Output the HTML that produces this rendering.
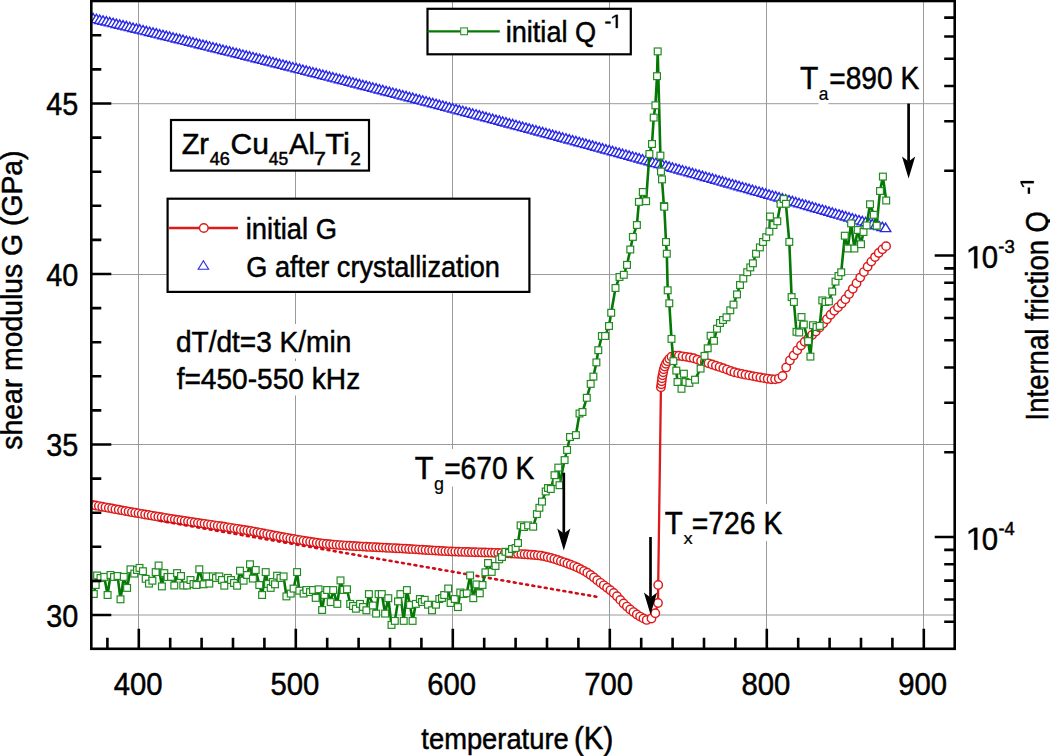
<!DOCTYPE html>
<html><head><meta charset="utf-8"><title>Shear modulus and internal friction</title>
<style>html,body{margin:0;padding:0;background:#fff;width:1050px;height:756px;overflow:hidden}svg{display:block}
text{font-family:"Liberation Sans",sans-serif;fill:#000;stroke:#000;stroke-width:0.5px}</style></head>
<body><svg width="1050" height="756" viewBox="0 0 1050 756">
<defs><clipPath id="clip"><rect x="91.3" y="1.0" width="863.4" height="647.8"/></clipPath></defs>
<rect width="1050" height="756" fill="#fff"/>
<path d="M138.5 1.0V648.8M295.5 1.0V648.8M452.5 1.0V648.8M609.5 1.0V648.8M766.5 1.0V648.8M923.5 1.0V648.8M91.3 615.0H954.7M91.3 444.5H954.7M91.3 274.5H954.7M91.3 103.7H954.7" stroke="#9a9a9a" stroke-width="1" fill="none"/>
<g clip-path="url(#clip)">
<g fill="#fff" stroke="#2a2ae6" stroke-width="1.4"><path d="M86.40 11.85L91.60 20.25H81.20Z"/><path d="M89.73 12.65L94.93 21.05H84.53Z"/><path d="M93.06 13.44L98.26 21.84H87.86Z"/><path d="M96.39 14.24L101.59 22.64H91.19Z"/><path d="M99.72 15.04L104.92 23.44H94.52Z"/><path d="M103.05 15.83L108.25 24.23H97.85Z"/><path d="M106.38 16.63L111.58 25.03H101.18Z"/><path d="M109.71 17.43L114.91 25.83H104.51Z"/><path d="M113.04 18.23L118.24 26.63H107.84Z"/><path d="M116.37 19.03L121.57 27.43H111.17Z"/><path d="M119.70 19.84L124.90 28.24H114.50Z"/><path d="M123.03 20.64L128.23 29.04H117.83Z"/><path d="M126.36 21.44L131.56 29.84H121.16Z"/><path d="M129.69 22.24L134.89 30.64H124.49Z"/><path d="M133.02 23.05L138.22 31.45H127.82Z"/><path d="M136.35 23.85L141.55 32.25H131.15Z"/><path d="M139.68 24.66L144.88 33.06H134.48Z"/><path d="M143.01 25.47L148.21 33.87H137.81Z"/><path d="M146.34 26.27L151.54 34.67H141.14Z"/><path d="M149.67 27.08L154.87 35.48H144.47Z"/><path d="M153.00 27.89L158.20 36.29H147.80Z"/><path d="M156.33 28.70L161.53 37.10H151.13Z"/><path d="M159.66 29.51L164.86 37.91H154.46Z"/><path d="M162.99 30.32L168.19 38.72H157.79Z"/><path d="M166.32 31.13L171.52 39.53H161.12Z"/><path d="M169.65 31.94L174.85 40.34H164.45Z"/><path d="M172.98 32.76L178.18 41.16H167.78Z"/><path d="M176.31 33.57L181.51 41.97H171.11Z"/><path d="M179.64 34.39L184.84 42.79H174.44Z"/><path d="M182.97 35.20L188.17 43.60H177.77Z"/><path d="M186.30 36.02L191.50 44.42H181.10Z"/><path d="M189.63 36.83L194.83 45.23H184.43Z"/><path d="M192.96 37.65L198.16 46.05H187.76Z"/><path d="M196.29 38.47L201.49 46.87H191.09Z"/><path d="M199.62 39.29L204.82 47.69H194.42Z"/><path d="M202.95 40.11L208.15 48.51H197.75Z"/><path d="M206.28 40.93L211.48 49.33H201.08Z"/><path d="M209.61 41.75L214.81 50.15H204.41Z"/><path d="M212.94 42.57L218.14 50.97H207.74Z"/><path d="M216.27 43.39L221.47 51.79H211.07Z"/><path d="M219.60 44.21L224.80 52.61H214.40Z"/><path d="M222.93 45.04L228.13 53.44H217.73Z"/><path d="M226.26 45.86L231.46 54.26H221.06Z"/><path d="M229.59 46.69L234.79 55.09H224.39Z"/><path d="M232.92 47.51L238.12 55.91H227.72Z"/><path d="M236.25 48.34L241.45 56.74H231.05Z"/><path d="M239.58 49.17L244.78 57.57H234.38Z"/><path d="M242.91 50.00L248.11 58.40H237.71Z"/><path d="M246.24 50.82L251.44 59.22H241.04Z"/><path d="M249.57 51.65L254.77 60.05H244.37Z"/><path d="M252.90 52.48L258.10 60.88H247.70Z"/><path d="M256.23 53.31L261.43 61.71H251.03Z"/><path d="M259.56 54.15L264.76 62.55H254.36Z"/><path d="M262.89 54.98L268.09 63.38H257.69Z"/><path d="M266.22 55.81L271.42 64.21H261.02Z"/><path d="M269.55 56.64L274.75 65.04H264.35Z"/><path d="M272.88 57.48L278.08 65.88H267.68Z"/><path d="M276.21 58.31L281.41 66.71H271.01Z"/><path d="M279.54 59.15L284.74 67.55H274.34Z"/><path d="M282.87 59.99L288.07 68.39H277.67Z"/><path d="M286.20 60.82L291.40 69.22H281.00Z"/><path d="M289.53 61.66L294.73 70.06H284.33Z"/><path d="M292.86 62.50L298.06 70.90H287.66Z"/><path d="M296.19 63.34L301.39 71.74H290.99Z"/><path d="M299.52 64.18L304.72 72.58H294.32Z"/><path d="M302.85 65.02L308.05 73.42H297.65Z"/><path d="M306.18 65.86L311.38 74.26H300.98Z"/><path d="M309.51 66.71L314.71 75.11H304.31Z"/><path d="M312.84 67.55L318.04 75.95H307.64Z"/><path d="M316.17 68.39L321.37 76.79H310.97Z"/><path d="M319.50 69.24L324.70 77.64H314.30Z"/><path d="M322.83 70.08L328.03 78.48H317.63Z"/><path d="M326.16 70.93L331.36 79.33H320.96Z"/><path d="M329.49 71.77L334.69 80.17H324.29Z"/><path d="M332.82 72.62L338.02 81.02H327.62Z"/><path d="M336.15 73.47L341.35 81.87H330.95Z"/><path d="M339.48 74.32L344.68 82.72H334.28Z"/><path d="M342.81 75.17L348.01 83.57H337.61Z"/><path d="M346.14 76.02L351.34 84.42H340.94Z"/><path d="M349.47 76.87L354.67 85.27H344.27Z"/><path d="M352.80 77.72L358.00 86.12H347.60Z"/><path d="M356.13 78.57L361.33 86.97H350.93Z"/><path d="M359.46 79.43L364.66 87.83H354.26Z"/><path d="M362.79 80.28L367.99 88.68H357.59Z"/><path d="M366.12 81.13L371.32 89.53H360.92Z"/><path d="M369.45 81.99L374.65 90.39H364.25Z"/><path d="M372.78 82.85L377.98 91.25H367.58Z"/><path d="M376.11 83.70L381.31 92.10H370.91Z"/><path d="M379.44 84.56L384.64 92.96H374.24Z"/><path d="M382.77 85.42L387.97 93.82H377.57Z"/><path d="M386.10 86.28L391.30 94.68H380.90Z"/><path d="M389.43 87.14L394.63 95.54H384.23Z"/><path d="M392.76 88.00L397.96 96.40H387.56Z"/><path d="M396.09 88.86L401.29 97.26H390.89Z"/><path d="M399.42 89.72L404.62 98.12H394.22Z"/><path d="M402.75 90.58L407.95 98.98H397.55Z"/><path d="M406.08 91.44L411.28 99.84H400.88Z"/><path d="M409.41 92.31L414.61 100.71H404.21Z"/><path d="M412.74 93.17L417.94 101.57H407.54Z"/><path d="M416.07 94.04L421.27 102.44H410.87Z"/><path d="M419.40 94.90L424.60 103.30H414.20Z"/><path d="M422.73 95.77L427.93 104.17H417.53Z"/><path d="M426.06 96.64L431.26 105.04H420.86Z"/><path d="M429.39 97.51L434.59 105.91H424.19Z"/><path d="M432.72 98.37L437.92 106.77H427.52Z"/><path d="M436.05 99.24L441.25 107.64H430.85Z"/><path d="M439.38 100.11L444.58 108.51H434.18Z"/><path d="M442.71 100.98L447.91 109.38H437.51Z"/><path d="M446.04 101.86L451.24 110.26H440.84Z"/><path d="M449.37 102.73L454.57 111.13H444.17Z"/><path d="M452.70 103.60L457.90 112.00H447.50Z"/><path d="M456.03 104.48L461.23 112.88H450.83Z"/><path d="M459.36 105.35L464.56 113.75H454.16Z"/><path d="M462.69 106.23L467.89 114.63H457.49Z"/><path d="M466.02 107.10L471.22 115.50H460.82Z"/><path d="M469.35 107.98L474.55 116.38H464.15Z"/><path d="M472.68 108.86L477.88 117.26H467.48Z"/><path d="M476.01 109.73L481.21 118.13H470.81Z"/><path d="M479.34 110.61L484.54 119.01H474.14Z"/><path d="M482.67 111.49L487.87 119.89H477.47Z"/><path d="M486.00 112.37L491.20 120.77H480.80Z"/><path d="M489.33 113.25L494.53 121.65H484.13Z"/><path d="M492.66 114.13L497.86 122.53H487.46Z"/><path d="M495.99 115.02L501.19 123.42H490.79Z"/><path d="M499.32 115.90L504.52 124.30H494.12Z"/><path d="M502.65 116.78L507.85 125.18H497.45Z"/><path d="M505.98 117.67L511.18 126.07H500.78Z"/><path d="M509.31 118.55L514.51 126.95H504.11Z"/><path d="M512.64 119.44L517.84 127.84H507.44Z"/><path d="M515.97 120.33L521.17 128.73H510.77Z"/><path d="M519.30 121.21L524.50 129.61H514.10Z"/><path d="M522.63 122.10L527.83 130.50H517.43Z"/><path d="M525.96 122.99L531.16 131.39H520.76Z"/><path d="M529.29 123.88L534.49 132.28H524.09Z"/><path d="M532.62 124.77L537.82 133.17H527.42Z"/><path d="M535.95 125.66L541.15 134.06H530.75Z"/><path d="M539.28 126.55L544.48 134.95H534.08Z"/><path d="M542.61 127.45L547.81 135.85H537.41Z"/><path d="M545.94 128.34L551.14 136.74H540.74Z"/><path d="M549.27 129.23L554.47 137.63H544.07Z"/><path d="M552.60 130.13L557.80 138.53H547.40Z"/><path d="M555.93 131.02L561.13 139.42H550.73Z"/><path d="M559.26 131.92L564.46 140.32H554.06Z"/><path d="M562.59 132.81L567.79 141.21H557.39Z"/><path d="M565.92 133.71L571.12 142.11H560.72Z"/><path d="M569.25 134.61L574.45 143.01H564.05Z"/><path d="M572.58 135.51L577.78 143.91H567.38Z"/><path d="M575.91 136.41L581.11 144.81H570.71Z"/><path d="M579.24 137.31L584.44 145.71H574.04Z"/><path d="M582.57 138.21L587.77 146.61H577.37Z"/><path d="M585.90 139.11L591.10 147.51H580.70Z"/><path d="M589.23 140.01L594.43 148.41H584.03Z"/><path d="M592.56 140.92L597.76 149.32H587.36Z"/><path d="M595.89 141.82L601.09 150.22H590.69Z"/><path d="M599.22 142.73L604.42 151.13H594.02Z"/><path d="M602.55 143.63L607.75 152.03H597.35Z"/><path d="M605.88 144.54L611.08 152.94H600.68Z"/><path d="M609.21 145.44L614.41 153.84H604.01Z"/><path d="M612.54 146.35L617.74 154.75H607.34Z"/><path d="M615.87 147.26L621.07 155.66H610.67Z"/><path d="M619.20 148.17L624.40 156.57H614.00Z"/><path d="M622.53 149.08L627.73 157.48H617.33Z"/><path d="M625.86 149.99L631.06 158.39H620.66Z"/><path d="M629.19 150.90L634.39 159.30H623.99Z"/><path d="M632.52 151.81L637.72 160.21H627.32Z"/><path d="M635.85 152.72L641.05 161.12H630.65Z"/><path d="M639.18 153.64L644.38 162.04H633.98Z"/><path d="M642.51 154.55L647.71 162.95H637.31Z"/><path d="M645.84 155.46L651.04 163.86H640.64Z"/><path d="M649.17 156.38L654.37 164.78H643.97Z"/><path d="M652.50 157.30L657.70 165.70H647.30Z"/><path d="M655.83 158.21L661.03 166.61H650.63Z"/><path d="M659.16 159.13L664.36 167.53H653.96Z"/><path d="M662.49 160.05L667.69 168.45H657.29Z"/><path d="M665.82 160.97L671.02 169.37H660.62Z"/><path d="M669.15 161.89L674.35 170.29H663.95Z"/><path d="M672.48 162.81L677.68 171.21H667.28Z"/><path d="M675.81 163.73L681.01 172.13H670.61Z"/><path d="M679.14 164.65L684.34 173.05H673.94Z"/><path d="M682.47 165.57L687.67 173.97H677.27Z"/><path d="M685.80 166.49L691.00 174.89H680.60Z"/><path d="M689.13 167.42L694.33 175.82H683.93Z"/><path d="M692.46 168.34L697.66 176.74H687.26Z"/><path d="M695.79 169.27L700.99 177.67H690.59Z"/><path d="M699.12 170.19L704.32 178.59H693.92Z"/><path d="M702.45 171.12L707.65 179.52H697.25Z"/><path d="M705.78 172.05L710.98 180.45H700.58Z"/><path d="M709.11 172.98L714.31 181.38H703.91Z"/><path d="M712.44 173.91L717.64 182.31H707.24Z"/><path d="M715.77 174.84L720.97 183.24H710.57Z"/><path d="M719.10 175.77L724.30 184.17H713.90Z"/><path d="M722.43 176.70L727.63 185.10H717.23Z"/><path d="M725.76 177.63L730.96 186.03H720.56Z"/><path d="M729.09 178.56L734.29 186.96H723.89Z"/><path d="M732.42 179.49L737.62 187.89H727.22Z"/><path d="M735.75 180.43L740.95 188.83H730.55Z"/><path d="M739.08 181.36L744.28 189.76H733.88Z"/><path d="M742.41 182.30L747.61 190.70H737.21Z"/><path d="M745.74 183.23L750.94 191.63H740.54Z"/><path d="M749.07 184.17L754.27 192.57H743.87Z"/><path d="M752.40 185.11L757.60 193.51H747.20Z"/><path d="M755.73 186.05L760.93 194.45H750.53Z"/><path d="M759.06 186.99L764.26 195.39H753.86Z"/><path d="M762.39 187.92L767.59 196.32H757.19Z"/><path d="M765.72 188.87L770.92 197.27H760.52Z"/><path d="M769.05 189.81L774.25 198.21H763.85Z"/><path d="M772.38 190.75L777.58 199.15H767.18Z"/><path d="M775.71 191.69L780.91 200.09H770.51Z"/><path d="M779.04 192.63L784.24 201.03H773.84Z"/><path d="M782.37 193.58L787.57 201.98H777.17Z"/><path d="M785.70 194.52L790.90 202.92H780.50Z"/><path d="M789.03 195.47L794.23 203.87H783.83Z"/><path d="M792.36 196.41L797.56 204.81H787.16Z"/><path d="M795.69 197.36L800.89 205.76H790.49Z"/><path d="M799.02 198.31L804.22 206.71H793.82Z"/><path d="M802.35 199.26L807.55 207.66H797.15Z"/><path d="M805.68 200.20L810.88 208.60H800.48Z"/><path d="M809.01 201.15L814.21 209.55H803.81Z"/><path d="M812.34 202.10L817.54 210.50H807.14Z"/><path d="M815.67 203.06L820.87 211.46H810.47Z"/><path d="M819.00 204.01L824.20 212.41H813.80Z"/><path d="M822.33 204.96L827.53 213.36H817.13Z"/><path d="M825.66 205.91L830.86 214.31H820.46Z"/><path d="M828.99 206.87L834.19 215.27H823.79Z"/><path d="M832.32 207.82L837.52 216.22H827.12Z"/><path d="M835.65 208.78L840.85 217.18H830.45Z"/><path d="M838.98 209.73L844.18 218.13H833.78Z"/><path d="M842.31 210.69L847.51 219.09H837.11Z"/><path d="M845.64 211.65L850.84 220.05H840.44Z"/><path d="M848.97 212.61L854.17 221.01H843.77Z"/><path d="M852.30 213.56L857.50 221.96H847.10Z"/><path d="M855.63 214.52L860.83 222.92H850.43Z"/><path d="M858.96 215.48L864.16 223.88H853.76Z"/><path d="M862.29 216.45L867.49 224.85H857.09Z"/><path d="M865.62 217.41L870.82 225.81H860.42Z"/><path d="M868.95 218.37L874.15 226.77H863.75Z"/><path d="M872.28 219.33L877.48 227.73H867.08Z"/><path d="M875.61 220.30L880.81 228.70H870.41Z"/><path d="M878.94 221.26L884.14 229.66H873.74Z"/><path d="M882.27 222.23L887.47 230.63H877.07Z"/><path d="M885.60 223.19L890.80 231.59H880.40Z"/></g>
<path d="M89.00 504.20L92.30 504.83L95.60 505.46L98.90 506.08L102.20 506.71L105.50 507.32L108.80 507.94L112.10 508.55L115.40 509.16L118.70 509.77L122.00 510.37L125.30 510.96L128.60 511.56L131.90 512.15L135.20 512.73L138.50 513.32L141.80 513.89L145.10 514.47L148.40 515.04L151.70 515.60L155.00 516.16L158.30 516.72L161.60 517.27L164.90 517.81L168.20 518.34L171.50 518.87L174.80 519.38L178.10 519.89L181.40 520.40L184.70 520.90L188.00 521.40L191.30 521.89L194.60 522.38L197.90 522.87L201.20 523.36L204.50 523.84L207.80 524.33L211.10 524.82L214.40 525.31L217.70 525.80L221.00 526.29L224.30 526.79L227.60 527.30L230.90 527.81L234.20 528.32L237.50 528.84L240.80 529.38L244.10 529.91L247.40 530.46L250.70 531.02L254.00 531.60L257.30 532.20L260.60 532.81L263.90 533.44L267.20 534.07L270.50 534.72L273.80 535.36L277.10 536.00L280.40 536.63L283.70 537.25L287.00 537.85L290.30 538.44L293.60 539.01L296.90 539.55L300.20 540.08L303.50 540.63L306.80 541.17L310.10 541.70L313.40 542.22L316.70 542.71L320.00 543.17L323.30 543.59L326.60 543.97L329.90 544.29L333.20 544.58L336.50 544.85L339.80 545.10L343.10 545.34L346.40 545.57L349.70 545.79L353.00 546.00L356.30 546.20L359.60 546.39L362.90 546.57L366.20 546.75L369.50 546.92L372.80 547.09L376.10 547.26L379.40 547.42L382.70 547.58L386.00 547.74L389.30 547.91L392.60 548.07L395.90 548.24L399.20 548.41L402.50 548.58L405.80 548.76L409.10 548.95L412.40 549.14L415.70 549.34L419.00 549.55L422.30 549.76L425.60 549.97L428.90 550.18L432.20 550.38L435.50 550.59L438.80 550.78L442.10 550.97L445.40 551.14L448.70 551.31L452.00 551.46L455.30 551.59L458.60 551.71L461.90 551.83L465.20 551.93L468.50 552.03L471.80 552.13L475.10 552.22L478.40 552.31L481.70 552.40L485.00 552.49L488.30 552.59L491.60 552.69L494.90 552.81L498.20 552.93L501.50 553.06L504.80 553.20L508.10 553.35L511.40 553.51L514.70 553.68L518.00 553.87L521.30 554.06L524.60 554.27L527.90 554.49L531.20 554.73L534.50 555.01L537.80 555.34L541.10 555.75L544.40 556.37L547.70 557.15L551.00 558.00L554.30 558.94L557.60 560.01L560.90 561.16L564.20 562.32L567.50 563.51L570.80 564.75L574.10 566.08L577.40 567.53L580.70 569.12L584.00 570.86L587.30 572.77L590.60 574.95L593.90 577.47L597.20 580.15L600.50 582.81L603.80 585.31L607.10 587.76L610.40 590.28L613.70 593.03L617.00 596.26L620.30 599.88L623.60 603.47L626.90 606.60L630.20 609.44L633.50 612.09L636.80 614.48L640.10 616.56L643.40 618.38L646.70 619.94L651.50 618.50L655.30 613.20L658.00 603.00L658.20 585.00L660.90 390.80L660.90 387.20L661.33 384.22L661.68 381.23L661.98 378.23L662.55 375.27L663.14 372.32L663.73 369.36L664.66 366.51L665.88 363.76L667.45 361.19L669.26 358.82L671.50 356.80L675.20 355.65L678.90 355.80L682.60 356.34L686.30 356.86L690.00 357.46L693.70 358.29L697.40 359.60L701.10 360.97L704.80 362.16L708.50 363.33L712.20 364.50L715.90 365.70L719.60 366.92L723.30 368.18L727.00 369.58L730.70 371.00L734.40 372.20L738.10 373.13L741.80 373.94L745.50 374.68L749.20 375.39L752.90 376.12L756.60 376.84L760.30 377.52L764.00 378.13L767.70 378.77L771.40 379.28L775.10 379.33L778.80 378.56L782.50 375.99L786.20 367.41L789.90 360.48L793.60 355.44L797.30 350.32L801.00 345.50L804.70 341.78L808.40 338.29L812.10 334.96L815.80 331.50L819.50 327.64L823.20 323.52L826.90 319.20L830.60 314.77L834.30 310.84L838.00 307.32L841.70 303.61L845.40 299.16L849.10 294.11L852.80 288.85L856.50 283.30L860.20 277.60L863.90 272.08L867.60 266.65L871.30 261.62L875.00 257.10L878.70 253.02L882.40 249.37L886.10 246.14" stroke="#dc1c1c" stroke-width="2.3" fill="none"/>
<g fill="#fff" stroke="#dc1c1c" stroke-width="1.45"><circle cx="89.00" cy="504.20" r="4.2"/><circle cx="92.30" cy="504.83" r="4.2"/><circle cx="95.60" cy="505.46" r="4.2"/><circle cx="98.90" cy="506.08" r="4.2"/><circle cx="102.20" cy="506.71" r="4.2"/><circle cx="105.50" cy="507.32" r="4.2"/><circle cx="108.80" cy="507.94" r="4.2"/><circle cx="112.10" cy="508.55" r="4.2"/><circle cx="115.40" cy="509.16" r="4.2"/><circle cx="118.70" cy="509.77" r="4.2"/><circle cx="122.00" cy="510.37" r="4.2"/><circle cx="125.30" cy="510.96" r="4.2"/><circle cx="128.60" cy="511.56" r="4.2"/><circle cx="131.90" cy="512.15" r="4.2"/><circle cx="135.20" cy="512.73" r="4.2"/><circle cx="138.50" cy="513.32" r="4.2"/><circle cx="141.80" cy="513.89" r="4.2"/><circle cx="145.10" cy="514.47" r="4.2"/><circle cx="148.40" cy="515.04" r="4.2"/><circle cx="151.70" cy="515.60" r="4.2"/><circle cx="155.00" cy="516.16" r="4.2"/><circle cx="158.30" cy="516.72" r="4.2"/><circle cx="161.60" cy="517.27" r="4.2"/><circle cx="164.90" cy="517.81" r="4.2"/><circle cx="168.20" cy="518.34" r="4.2"/><circle cx="171.50" cy="518.87" r="4.2"/><circle cx="174.80" cy="519.38" r="4.2"/><circle cx="178.10" cy="519.89" r="4.2"/><circle cx="181.40" cy="520.40" r="4.2"/><circle cx="184.70" cy="520.90" r="4.2"/><circle cx="188.00" cy="521.40" r="4.2"/><circle cx="191.30" cy="521.89" r="4.2"/><circle cx="194.60" cy="522.38" r="4.2"/><circle cx="197.90" cy="522.87" r="4.2"/><circle cx="201.20" cy="523.36" r="4.2"/><circle cx="204.50" cy="523.84" r="4.2"/><circle cx="207.80" cy="524.33" r="4.2"/><circle cx="211.10" cy="524.82" r="4.2"/><circle cx="214.40" cy="525.31" r="4.2"/><circle cx="217.70" cy="525.80" r="4.2"/><circle cx="221.00" cy="526.29" r="4.2"/><circle cx="224.30" cy="526.79" r="4.2"/><circle cx="227.60" cy="527.30" r="4.2"/><circle cx="230.90" cy="527.81" r="4.2"/><circle cx="234.20" cy="528.32" r="4.2"/><circle cx="237.50" cy="528.84" r="4.2"/><circle cx="240.80" cy="529.38" r="4.2"/><circle cx="244.10" cy="529.91" r="4.2"/><circle cx="247.40" cy="530.46" r="4.2"/><circle cx="250.70" cy="531.02" r="4.2"/><circle cx="254.00" cy="531.60" r="4.2"/><circle cx="257.30" cy="532.20" r="4.2"/><circle cx="260.60" cy="532.81" r="4.2"/><circle cx="263.90" cy="533.44" r="4.2"/><circle cx="267.20" cy="534.07" r="4.2"/><circle cx="270.50" cy="534.72" r="4.2"/><circle cx="273.80" cy="535.36" r="4.2"/><circle cx="277.10" cy="536.00" r="4.2"/><circle cx="280.40" cy="536.63" r="4.2"/><circle cx="283.70" cy="537.25" r="4.2"/><circle cx="287.00" cy="537.85" r="4.2"/><circle cx="290.30" cy="538.44" r="4.2"/><circle cx="293.60" cy="539.01" r="4.2"/><circle cx="296.90" cy="539.55" r="4.2"/><circle cx="300.20" cy="540.08" r="4.2"/><circle cx="303.50" cy="540.63" r="4.2"/><circle cx="306.80" cy="541.17" r="4.2"/><circle cx="310.10" cy="541.70" r="4.2"/><circle cx="313.40" cy="542.22" r="4.2"/><circle cx="316.70" cy="542.71" r="4.2"/><circle cx="320.00" cy="543.17" r="4.2"/><circle cx="323.30" cy="543.59" r="4.2"/><circle cx="326.60" cy="543.97" r="4.2"/><circle cx="329.90" cy="544.29" r="4.2"/><circle cx="333.20" cy="544.58" r="4.2"/><circle cx="336.50" cy="544.85" r="4.2"/><circle cx="339.80" cy="545.10" r="4.2"/><circle cx="343.10" cy="545.34" r="4.2"/><circle cx="346.40" cy="545.57" r="4.2"/><circle cx="349.70" cy="545.79" r="4.2"/><circle cx="353.00" cy="546.00" r="4.2"/><circle cx="356.30" cy="546.20" r="4.2"/><circle cx="359.60" cy="546.39" r="4.2"/><circle cx="362.90" cy="546.57" r="4.2"/><circle cx="366.20" cy="546.75" r="4.2"/><circle cx="369.50" cy="546.92" r="4.2"/><circle cx="372.80" cy="547.09" r="4.2"/><circle cx="376.10" cy="547.26" r="4.2"/><circle cx="379.40" cy="547.42" r="4.2"/><circle cx="382.70" cy="547.58" r="4.2"/><circle cx="386.00" cy="547.74" r="4.2"/><circle cx="389.30" cy="547.91" r="4.2"/><circle cx="392.60" cy="548.07" r="4.2"/><circle cx="395.90" cy="548.24" r="4.2"/><circle cx="399.20" cy="548.41" r="4.2"/><circle cx="402.50" cy="548.58" r="4.2"/><circle cx="405.80" cy="548.76" r="4.2"/><circle cx="409.10" cy="548.95" r="4.2"/><circle cx="412.40" cy="549.14" r="4.2"/><circle cx="415.70" cy="549.34" r="4.2"/><circle cx="419.00" cy="549.55" r="4.2"/><circle cx="422.30" cy="549.76" r="4.2"/><circle cx="425.60" cy="549.97" r="4.2"/><circle cx="428.90" cy="550.18" r="4.2"/><circle cx="432.20" cy="550.38" r="4.2"/><circle cx="435.50" cy="550.59" r="4.2"/><circle cx="438.80" cy="550.78" r="4.2"/><circle cx="442.10" cy="550.97" r="4.2"/><circle cx="445.40" cy="551.14" r="4.2"/><circle cx="448.70" cy="551.31" r="4.2"/><circle cx="452.00" cy="551.46" r="4.2"/><circle cx="455.30" cy="551.59" r="4.2"/><circle cx="458.60" cy="551.71" r="4.2"/><circle cx="461.90" cy="551.83" r="4.2"/><circle cx="465.20" cy="551.93" r="4.2"/><circle cx="468.50" cy="552.03" r="4.2"/><circle cx="471.80" cy="552.13" r="4.2"/><circle cx="475.10" cy="552.22" r="4.2"/><circle cx="478.40" cy="552.31" r="4.2"/><circle cx="481.70" cy="552.40" r="4.2"/><circle cx="485.00" cy="552.49" r="4.2"/><circle cx="488.30" cy="552.59" r="4.2"/><circle cx="491.60" cy="552.69" r="4.2"/><circle cx="494.90" cy="552.81" r="4.2"/><circle cx="498.20" cy="552.93" r="4.2"/><circle cx="501.50" cy="553.06" r="4.2"/><circle cx="504.80" cy="553.20" r="4.2"/><circle cx="508.10" cy="553.35" r="4.2"/><circle cx="511.40" cy="553.51" r="4.2"/><circle cx="514.70" cy="553.68" r="4.2"/><circle cx="518.00" cy="553.87" r="4.2"/><circle cx="521.30" cy="554.06" r="4.2"/><circle cx="524.60" cy="554.27" r="4.2"/><circle cx="527.90" cy="554.49" r="4.2"/><circle cx="531.20" cy="554.73" r="4.2"/><circle cx="534.50" cy="555.01" r="4.2"/><circle cx="537.80" cy="555.34" r="4.2"/><circle cx="541.10" cy="555.75" r="4.2"/><circle cx="544.40" cy="556.37" r="4.2"/><circle cx="547.70" cy="557.15" r="4.2"/><circle cx="551.00" cy="558.00" r="4.2"/><circle cx="554.30" cy="558.94" r="4.2"/><circle cx="557.60" cy="560.01" r="4.2"/><circle cx="560.90" cy="561.16" r="4.2"/><circle cx="564.20" cy="562.32" r="4.2"/><circle cx="567.50" cy="563.51" r="4.2"/><circle cx="570.80" cy="564.75" r="4.2"/><circle cx="574.10" cy="566.08" r="4.2"/><circle cx="577.40" cy="567.53" r="4.2"/><circle cx="580.70" cy="569.12" r="4.2"/><circle cx="584.00" cy="570.86" r="4.2"/><circle cx="587.30" cy="572.77" r="4.2"/><circle cx="590.60" cy="574.95" r="4.2"/><circle cx="593.90" cy="577.47" r="4.2"/><circle cx="597.20" cy="580.15" r="4.2"/><circle cx="600.50" cy="582.81" r="4.2"/><circle cx="603.80" cy="585.31" r="4.2"/><circle cx="607.10" cy="587.76" r="4.2"/><circle cx="610.40" cy="590.28" r="4.2"/><circle cx="613.70" cy="593.03" r="4.2"/><circle cx="617.00" cy="596.26" r="4.2"/><circle cx="620.30" cy="599.88" r="4.2"/><circle cx="623.60" cy="603.47" r="4.2"/><circle cx="626.90" cy="606.60" r="4.2"/><circle cx="630.20" cy="609.44" r="4.2"/><circle cx="633.50" cy="612.09" r="4.2"/><circle cx="636.80" cy="614.48" r="4.2"/><circle cx="640.10" cy="616.56" r="4.2"/><circle cx="643.40" cy="618.38" r="4.2"/><circle cx="646.70" cy="619.94" r="4.2"/><circle cx="651.50" cy="618.50" r="4.2"/><circle cx="655.30" cy="613.20" r="4.2"/><circle cx="658.00" cy="603.00" r="4.2"/><circle cx="658.20" cy="585.00" r="4.2"/><circle cx="660.90" cy="387.20" r="4.2"/><circle cx="661.33" cy="384.22" r="4.2"/><circle cx="661.68" cy="381.23" r="4.2"/><circle cx="661.98" cy="378.23" r="4.2"/><circle cx="662.55" cy="375.27" r="4.2"/><circle cx="663.14" cy="372.32" r="4.2"/><circle cx="663.73" cy="369.36" r="4.2"/><circle cx="664.66" cy="366.51" r="4.2"/><circle cx="665.88" cy="363.76" r="4.2"/><circle cx="667.45" cy="361.19" r="4.2"/><circle cx="669.26" cy="358.82" r="4.2"/><circle cx="671.50" cy="356.80" r="4.2"/><circle cx="675.20" cy="355.65" r="4.2"/><circle cx="678.90" cy="355.80" r="4.2"/><circle cx="682.60" cy="356.34" r="4.2"/><circle cx="686.30" cy="356.86" r="4.2"/><circle cx="690.00" cy="357.46" r="4.2"/><circle cx="693.70" cy="358.29" r="4.2"/><circle cx="697.40" cy="359.60" r="4.2"/><circle cx="701.10" cy="360.97" r="4.2"/><circle cx="704.80" cy="362.16" r="4.2"/><circle cx="708.50" cy="363.33" r="4.2"/><circle cx="712.20" cy="364.50" r="4.2"/><circle cx="715.90" cy="365.70" r="4.2"/><circle cx="719.60" cy="366.92" r="4.2"/><circle cx="723.30" cy="368.18" r="4.2"/><circle cx="727.00" cy="369.58" r="4.2"/><circle cx="730.70" cy="371.00" r="4.2"/><circle cx="734.40" cy="372.20" r="4.2"/><circle cx="738.10" cy="373.13" r="4.2"/><circle cx="741.80" cy="373.94" r="4.2"/><circle cx="745.50" cy="374.68" r="4.2"/><circle cx="749.20" cy="375.39" r="4.2"/><circle cx="752.90" cy="376.12" r="4.2"/><circle cx="756.60" cy="376.84" r="4.2"/><circle cx="760.30" cy="377.52" r="4.2"/><circle cx="764.00" cy="378.13" r="4.2"/><circle cx="767.70" cy="378.77" r="4.2"/><circle cx="771.40" cy="379.28" r="4.2"/><circle cx="775.10" cy="379.33" r="4.2"/><circle cx="778.80" cy="378.56" r="4.2"/><circle cx="782.50" cy="375.99" r="4.2"/><circle cx="786.20" cy="367.41" r="4.2"/><circle cx="789.90" cy="360.48" r="4.2"/><circle cx="793.60" cy="355.44" r="4.2"/><circle cx="797.30" cy="350.32" r="4.2"/><circle cx="801.00" cy="345.50" r="4.2"/><circle cx="804.70" cy="341.78" r="4.2"/><circle cx="808.40" cy="338.29" r="4.2"/><circle cx="812.10" cy="334.96" r="4.2"/><circle cx="815.80" cy="331.50" r="4.2"/><circle cx="819.50" cy="327.64" r="4.2"/><circle cx="823.20" cy="323.52" r="4.2"/><circle cx="826.90" cy="319.20" r="4.2"/><circle cx="830.60" cy="314.77" r="4.2"/><circle cx="834.30" cy="310.84" r="4.2"/><circle cx="838.00" cy="307.32" r="4.2"/><circle cx="841.70" cy="303.61" r="4.2"/><circle cx="845.40" cy="299.16" r="4.2"/><circle cx="849.10" cy="294.11" r="4.2"/><circle cx="852.80" cy="288.85" r="4.2"/><circle cx="856.50" cy="283.30" r="4.2"/><circle cx="860.20" cy="277.60" r="4.2"/><circle cx="863.90" cy="272.08" r="4.2"/><circle cx="867.60" cy="266.65" r="4.2"/><circle cx="871.30" cy="261.62" r="4.2"/><circle cx="875.00" cy="257.10" r="4.2"/><circle cx="878.70" cy="253.02" r="4.2"/><circle cx="882.40" cy="249.37" r="4.2"/><circle cx="886.10" cy="246.14" r="4.2"/></g>
<path d="M160.0 520.8L598.5 597.1" stroke="#d00c18" stroke-width="2.6" stroke-dasharray="1.9 4.4" stroke-linecap="round" fill="none"/>
<path d="M93.80 594.00L95.70 585.00L97.10 575.50L100.50 578.00L104.30 576.90L107.60 595.00L110.50 575.00L114.00 577.00L117.60 576.00L120.50 599.30L123.80 576.90L127.10 587.90L130.50 569.30L134.30 573.60L137.00 570.00L139.50 567.90L142.90 571.20L145.70 578.80L149.00 583.60L152.40 580.70L155.70 572.10L158.60 565.50L161.90 586.40L164.30 573.10L167.50 577.00L171.00 576.90L174.30 585.50L177.10 573.10L181.00 576.00L183.30 585.50L187.10 585.50L190.50 580.00L193.50 584.00L196.40 585.00L199.30 569.30L203.60 584.30L206.40 576.40L209.30 583.60L212.90 576.40L216.00 578.00L219.30 576.40L222.00 580.00L224.30 585.70L227.90 577.90L231.00 580.00L234.00 583.00L237.10 585.70L240.00 570.70L243.60 580.70L247.10 575.00L250.00 564.30L252.90 578.60L255.70 570.00L259.30 585.00L262.10 595.00L265.70 572.10L268.00 584.00L270.70 587.90L273.00 582.00L275.00 584.30L277.10 575.70L280.50 578.00L283.60 576.40L286.40 596.40L290.70 593.60L293.60 588.60L297.10 572.10L299.30 590.70L303.60 593.60L306.40 590.00L310.00 592.10L313.00 590.00L315.70 597.90L318.60 589.30L322.10 610.00L324.50 595.00L327.10 590.00L330.70 602.10L333.20 590.10L337.30 603.90L340.50 580.40L343.50 590.00L347.00 589.30L350.20 603.90L353.00 606.00L355.90 608.70L360.00 603.90L363.00 607.00L366.40 610.30L368.90 594.10L372.90 605.50L376.10 613.60L378.60 594.10L381.80 594.10L385.10 613.60L388.30 598.20L391.50 624.90L394.80 620.90L398.00 601.40L400.40 594.10L403.70 620.90L406.90 590.10L410.00 605.00L412.60 620.90L415.80 603.90L419.90 599.00L422.00 602.00L424.70 599.80L428.00 604.70L432.00 610.30L436.00 604.70L439.30 599.00L442.00 598.00L444.20 595.00L448.20 588.50L450.60 603.00L454.70 599.00L457.90 607.10L460.30 592.50L463.50 594.00L466.80 593.30L470.10 575.50L473.30 598.20L476.50 584.40L479.80 593.30L482.50 585.00L485.40 572.30L488.00 563.00L491.70 571.90L495.50 566.00L499.20 559.30L502.00 557.00L505.50 551.80L509.00 553.00L512.00 549.00L515.60 548.00L518.00 543.00L520.60 525.40L524.00 527.00L528.10 525.40L533.20 526.70L536.90 514.10L539.40 507.80L542.00 501.60L545.70 491.50L548.00 488.00L550.80 489.00L554.50 475.20L556.50 482.00L558.30 467.60L559.50 485.20L564.60 460.10L567.10 450.00L570.00 437.00L575.90 435.10L579.50 413.50L582.50 412.00L586.80 397.80L590.70 383.90L593.40 376.60L596.40 362.40L598.30 350.20L601.90 336.00L605.10 336.00L609.00 326.00L611.20 312.80L615.50 288.00L619.50 277.00L623.80 274.80L627.00 264.90L630.30 249.50L632.90 236.90L636.90 225.00L638.90 201.90L642.80 192.00L646.10 201.20L649.40 154.00L652.00 144.00L653.70 117.60L655.40 105.30L657.00 76.20L657.70 51.40L660.40 155.60L661.00 171.50L662.00 179.40L663.90 206.00L664.30 206.80L666.00 242.00L666.80 253.70L667.70 290.30L669.30 303.30L671.50 338.90L673.40 361.10L676.30 370.60L677.50 382.00L681.50 388.80L683.90 373.70L685.50 382.00L689.40 382.90L695.00 379.70L700.60 368.60L704.50 355.90L707.70 348.30L710.60 335.70L714.00 340.80L717.00 328.70L720.00 323.00L723.00 320.00L726.50 317.30L730.30 310.30L733.50 304.60L737.00 294.40L740.00 285.00L743.30 278.50L747.20 272.20L750.30 267.40L752.90 263.30L756.00 253.70L759.90 247.40L763.00 242.00L766.20 237.20L769.40 231.50L770.00 216.50L773.50 225.00L777.30 221.30L780.50 203.80L783.70 199.00L785.90 203.80L789.30 241.90L791.60 297.10L793.90 302.00L796.50 331.80L799.20 332.50L801.50 317.00L803.80 324.50L808.10 341.10L810.40 356.60L813.00 325.20L816.50 327.00L819.70 325.90L822.30 300.40L825.50 302.00L828.90 301.40L832.20 291.50L835.50 281.60L838.50 276.00L841.20 272.30L844.80 235.70L847.80 248.50L851.10 223.40L854.40 248.50L857.70 230.00L861.00 244.20L863.50 232.00L866.60 225.40L870.00 204.30L873.80 214.80L876.70 225.70L880.00 191.00L882.90 176.60L886.20 200.50" stroke="#067806" stroke-width="2.6" fill="none" stroke-linejoin="round"/>
<g fill="#fff" stroke="#228c22" stroke-width="1.2"><rect x="90.40" y="590.60" width="6.8" height="6.8"/><rect x="92.30" y="581.60" width="6.8" height="6.8"/><rect x="93.70" y="572.10" width="6.8" height="6.8"/><rect x="97.10" y="574.60" width="6.8" height="6.8"/><rect x="100.90" y="573.50" width="6.8" height="6.8"/><rect x="104.20" y="591.60" width="6.8" height="6.8"/><rect x="107.10" y="571.60" width="6.8" height="6.8"/><rect x="110.60" y="573.60" width="6.8" height="6.8"/><rect x="114.20" y="572.60" width="6.8" height="6.8"/><rect x="117.10" y="595.90" width="6.8" height="6.8"/><rect x="120.40" y="573.50" width="6.8" height="6.8"/><rect x="123.70" y="584.50" width="6.8" height="6.8"/><rect x="127.10" y="565.90" width="6.8" height="6.8"/><rect x="130.90" y="570.20" width="6.8" height="6.8"/><rect x="133.60" y="566.60" width="6.8" height="6.8"/><rect x="136.10" y="564.50" width="6.8" height="6.8"/><rect x="139.50" y="567.80" width="6.8" height="6.8"/><rect x="142.30" y="575.40" width="6.8" height="6.8"/><rect x="145.60" y="580.20" width="6.8" height="6.8"/><rect x="149.00" y="577.30" width="6.8" height="6.8"/><rect x="152.30" y="568.70" width="6.8" height="6.8"/><rect x="155.20" y="562.10" width="6.8" height="6.8"/><rect x="158.50" y="583.00" width="6.8" height="6.8"/><rect x="160.90" y="569.70" width="6.8" height="6.8"/><rect x="164.10" y="573.60" width="6.8" height="6.8"/><rect x="167.60" y="573.50" width="6.8" height="6.8"/><rect x="170.90" y="582.10" width="6.8" height="6.8"/><rect x="173.70" y="569.70" width="6.8" height="6.8"/><rect x="177.60" y="572.60" width="6.8" height="6.8"/><rect x="179.90" y="582.10" width="6.8" height="6.8"/><rect x="183.70" y="582.10" width="6.8" height="6.8"/><rect x="187.10" y="576.60" width="6.8" height="6.8"/><rect x="190.10" y="580.60" width="6.8" height="6.8"/><rect x="193.00" y="581.60" width="6.8" height="6.8"/><rect x="195.90" y="565.90" width="6.8" height="6.8"/><rect x="200.20" y="580.90" width="6.8" height="6.8"/><rect x="203.00" y="573.00" width="6.8" height="6.8"/><rect x="205.90" y="580.20" width="6.8" height="6.8"/><rect x="209.50" y="573.00" width="6.8" height="6.8"/><rect x="212.60" y="574.60" width="6.8" height="6.8"/><rect x="215.90" y="573.00" width="6.8" height="6.8"/><rect x="218.60" y="576.60" width="6.8" height="6.8"/><rect x="220.90" y="582.30" width="6.8" height="6.8"/><rect x="224.50" y="574.50" width="6.8" height="6.8"/><rect x="227.60" y="576.60" width="6.8" height="6.8"/><rect x="230.60" y="579.60" width="6.8" height="6.8"/><rect x="233.70" y="582.30" width="6.8" height="6.8"/><rect x="236.60" y="567.30" width="6.8" height="6.8"/><rect x="240.20" y="577.30" width="6.8" height="6.8"/><rect x="243.70" y="571.60" width="6.8" height="6.8"/><rect x="246.60" y="560.90" width="6.8" height="6.8"/><rect x="249.50" y="575.20" width="6.8" height="6.8"/><rect x="252.30" y="566.60" width="6.8" height="6.8"/><rect x="255.90" y="581.60" width="6.8" height="6.8"/><rect x="258.70" y="591.60" width="6.8" height="6.8"/><rect x="262.30" y="568.70" width="6.8" height="6.8"/><rect x="264.60" y="580.60" width="6.8" height="6.8"/><rect x="267.30" y="584.50" width="6.8" height="6.8"/><rect x="269.60" y="578.60" width="6.8" height="6.8"/><rect x="271.60" y="580.90" width="6.8" height="6.8"/><rect x="273.70" y="572.30" width="6.8" height="6.8"/><rect x="277.10" y="574.60" width="6.8" height="6.8"/><rect x="280.20" y="573.00" width="6.8" height="6.8"/><rect x="283.00" y="593.00" width="6.8" height="6.8"/><rect x="287.30" y="590.20" width="6.8" height="6.8"/><rect x="290.20" y="585.20" width="6.8" height="6.8"/><rect x="293.70" y="568.70" width="6.8" height="6.8"/><rect x="295.90" y="587.30" width="6.8" height="6.8"/><rect x="300.20" y="590.20" width="6.8" height="6.8"/><rect x="303.00" y="586.60" width="6.8" height="6.8"/><rect x="306.60" y="588.70" width="6.8" height="6.8"/><rect x="309.60" y="586.60" width="6.8" height="6.8"/><rect x="312.30" y="594.50" width="6.8" height="6.8"/><rect x="315.20" y="585.90" width="6.8" height="6.8"/><rect x="318.70" y="606.60" width="6.8" height="6.8"/><rect x="321.10" y="591.60" width="6.8" height="6.8"/><rect x="323.70" y="586.60" width="6.8" height="6.8"/><rect x="327.30" y="598.70" width="6.8" height="6.8"/><rect x="329.80" y="586.70" width="6.8" height="6.8"/><rect x="333.90" y="600.50" width="6.8" height="6.8"/><rect x="337.10" y="577.00" width="6.8" height="6.8"/><rect x="340.10" y="586.60" width="6.8" height="6.8"/><rect x="343.60" y="585.90" width="6.8" height="6.8"/><rect x="346.80" y="600.50" width="6.8" height="6.8"/><rect x="349.60" y="602.60" width="6.8" height="6.8"/><rect x="352.50" y="605.30" width="6.8" height="6.8"/><rect x="356.60" y="600.50" width="6.8" height="6.8"/><rect x="359.60" y="603.60" width="6.8" height="6.8"/><rect x="363.00" y="606.90" width="6.8" height="6.8"/><rect x="365.50" y="590.70" width="6.8" height="6.8"/><rect x="369.50" y="602.10" width="6.8" height="6.8"/><rect x="372.70" y="610.20" width="6.8" height="6.8"/><rect x="375.20" y="590.70" width="6.8" height="6.8"/><rect x="378.40" y="590.70" width="6.8" height="6.8"/><rect x="381.70" y="610.20" width="6.8" height="6.8"/><rect x="384.90" y="594.80" width="6.8" height="6.8"/><rect x="388.10" y="621.50" width="6.8" height="6.8"/><rect x="391.40" y="617.50" width="6.8" height="6.8"/><rect x="394.60" y="598.00" width="6.8" height="6.8"/><rect x="397.00" y="590.70" width="6.8" height="6.8"/><rect x="400.30" y="617.50" width="6.8" height="6.8"/><rect x="403.50" y="586.70" width="6.8" height="6.8"/><rect x="406.60" y="601.60" width="6.8" height="6.8"/><rect x="409.20" y="617.50" width="6.8" height="6.8"/><rect x="412.40" y="600.50" width="6.8" height="6.8"/><rect x="416.50" y="595.60" width="6.8" height="6.8"/><rect x="418.60" y="598.60" width="6.8" height="6.8"/><rect x="421.30" y="596.40" width="6.8" height="6.8"/><rect x="424.60" y="601.30" width="6.8" height="6.8"/><rect x="428.60" y="606.90" width="6.8" height="6.8"/><rect x="432.60" y="601.30" width="6.8" height="6.8"/><rect x="435.90" y="595.60" width="6.8" height="6.8"/><rect x="438.60" y="594.60" width="6.8" height="6.8"/><rect x="440.80" y="591.60" width="6.8" height="6.8"/><rect x="444.80" y="585.10" width="6.8" height="6.8"/><rect x="447.20" y="599.60" width="6.8" height="6.8"/><rect x="451.30" y="595.60" width="6.8" height="6.8"/><rect x="454.50" y="603.70" width="6.8" height="6.8"/><rect x="456.90" y="589.10" width="6.8" height="6.8"/><rect x="460.10" y="590.60" width="6.8" height="6.8"/><rect x="463.40" y="589.90" width="6.8" height="6.8"/><rect x="466.70" y="572.10" width="6.8" height="6.8"/><rect x="469.90" y="594.80" width="6.8" height="6.8"/><rect x="473.10" y="581.00" width="6.8" height="6.8"/><rect x="476.40" y="589.90" width="6.8" height="6.8"/><rect x="479.10" y="581.60" width="6.8" height="6.8"/><rect x="482.00" y="568.90" width="6.8" height="6.8"/><rect x="484.60" y="559.60" width="6.8" height="6.8"/><rect x="488.30" y="568.50" width="6.8" height="6.8"/><rect x="492.10" y="562.60" width="6.8" height="6.8"/><rect x="495.80" y="555.90" width="6.8" height="6.8"/><rect x="498.60" y="553.60" width="6.8" height="6.8"/><rect x="502.10" y="548.40" width="6.8" height="6.8"/><rect x="505.60" y="549.60" width="6.8" height="6.8"/><rect x="508.60" y="545.60" width="6.8" height="6.8"/><rect x="512.20" y="544.60" width="6.8" height="6.8"/><rect x="514.60" y="539.60" width="6.8" height="6.8"/><rect x="517.20" y="522.00" width="6.8" height="6.8"/><rect x="520.60" y="523.60" width="6.8" height="6.8"/><rect x="524.70" y="522.00" width="6.8" height="6.8"/><rect x="529.80" y="523.30" width="6.8" height="6.8"/><rect x="533.50" y="510.70" width="6.8" height="6.8"/><rect x="536.00" y="504.40" width="6.8" height="6.8"/><rect x="538.60" y="498.20" width="6.8" height="6.8"/><rect x="542.30" y="488.10" width="6.8" height="6.8"/><rect x="544.60" y="484.60" width="6.8" height="6.8"/><rect x="547.40" y="485.60" width="6.8" height="6.8"/><rect x="551.10" y="471.80" width="6.8" height="6.8"/><rect x="553.10" y="478.60" width="6.8" height="6.8"/><rect x="554.90" y="464.20" width="6.8" height="6.8"/><rect x="556.10" y="481.80" width="6.8" height="6.8"/><rect x="561.20" y="456.70" width="6.8" height="6.8"/><rect x="563.70" y="446.60" width="6.8" height="6.8"/><rect x="566.60" y="433.60" width="6.8" height="6.8"/><rect x="572.50" y="431.70" width="6.8" height="6.8"/><rect x="576.10" y="410.10" width="6.8" height="6.8"/><rect x="579.10" y="408.60" width="6.8" height="6.8"/><rect x="583.40" y="394.40" width="6.8" height="6.8"/><rect x="587.30" y="380.50" width="6.8" height="6.8"/><rect x="590.00" y="373.20" width="6.8" height="6.8"/><rect x="593.00" y="359.00" width="6.8" height="6.8"/><rect x="594.90" y="346.80" width="6.8" height="6.8"/><rect x="598.50" y="332.60" width="6.8" height="6.8"/><rect x="601.70" y="332.60" width="6.8" height="6.8"/><rect x="605.60" y="322.60" width="6.8" height="6.8"/><rect x="607.80" y="309.40" width="6.8" height="6.8"/><rect x="612.10" y="284.60" width="6.8" height="6.8"/><rect x="616.10" y="273.60" width="6.8" height="6.8"/><rect x="620.40" y="271.40" width="6.8" height="6.8"/><rect x="623.60" y="261.50" width="6.8" height="6.8"/><rect x="626.90" y="246.10" width="6.8" height="6.8"/><rect x="629.50" y="233.50" width="6.8" height="6.8"/><rect x="633.50" y="221.60" width="6.8" height="6.8"/><rect x="635.50" y="198.50" width="6.8" height="6.8"/><rect x="639.40" y="188.60" width="6.8" height="6.8"/><rect x="642.70" y="197.80" width="6.8" height="6.8"/><rect x="646.00" y="150.60" width="6.8" height="6.8"/><rect x="648.60" y="140.60" width="6.8" height="6.8"/><rect x="650.30" y="114.20" width="6.8" height="6.8"/><rect x="652.00" y="101.90" width="6.8" height="6.8"/><rect x="653.60" y="72.80" width="6.8" height="6.8"/><rect x="654.30" y="48.00" width="6.8" height="6.8"/><rect x="657.00" y="152.20" width="6.8" height="6.8"/><rect x="657.60" y="168.10" width="6.8" height="6.8"/><rect x="658.60" y="176.00" width="6.8" height="6.8"/><rect x="660.50" y="202.60" width="6.8" height="6.8"/><rect x="660.90" y="203.40" width="6.8" height="6.8"/><rect x="662.60" y="238.60" width="6.8" height="6.8"/><rect x="663.40" y="250.30" width="6.8" height="6.8"/><rect x="664.30" y="286.90" width="6.8" height="6.8"/><rect x="665.90" y="299.90" width="6.8" height="6.8"/><rect x="668.10" y="335.50" width="6.8" height="6.8"/><rect x="670.00" y="357.70" width="6.8" height="6.8"/><rect x="672.90" y="367.20" width="6.8" height="6.8"/><rect x="674.10" y="378.60" width="6.8" height="6.8"/><rect x="678.10" y="385.40" width="6.8" height="6.8"/><rect x="680.50" y="370.30" width="6.8" height="6.8"/><rect x="682.10" y="378.60" width="6.8" height="6.8"/><rect x="686.00" y="379.50" width="6.8" height="6.8"/><rect x="691.60" y="376.30" width="6.8" height="6.8"/><rect x="697.20" y="365.20" width="6.8" height="6.8"/><rect x="701.10" y="352.50" width="6.8" height="6.8"/><rect x="704.30" y="344.90" width="6.8" height="6.8"/><rect x="707.20" y="332.30" width="6.8" height="6.8"/><rect x="710.60" y="337.40" width="6.8" height="6.8"/><rect x="713.60" y="325.30" width="6.8" height="6.8"/><rect x="716.60" y="319.60" width="6.8" height="6.8"/><rect x="719.60" y="316.60" width="6.8" height="6.8"/><rect x="723.10" y="313.90" width="6.8" height="6.8"/><rect x="726.90" y="306.90" width="6.8" height="6.8"/><rect x="730.10" y="301.20" width="6.8" height="6.8"/><rect x="733.60" y="291.00" width="6.8" height="6.8"/><rect x="736.60" y="281.60" width="6.8" height="6.8"/><rect x="739.90" y="275.10" width="6.8" height="6.8"/><rect x="743.80" y="268.80" width="6.8" height="6.8"/><rect x="746.90" y="264.00" width="6.8" height="6.8"/><rect x="749.50" y="259.90" width="6.8" height="6.8"/><rect x="752.60" y="250.30" width="6.8" height="6.8"/><rect x="756.50" y="244.00" width="6.8" height="6.8"/><rect x="759.60" y="238.60" width="6.8" height="6.8"/><rect x="762.80" y="233.80" width="6.8" height="6.8"/><rect x="766.00" y="228.10" width="6.8" height="6.8"/><rect x="766.60" y="213.10" width="6.8" height="6.8"/><rect x="770.10" y="221.60" width="6.8" height="6.8"/><rect x="773.90" y="217.90" width="6.8" height="6.8"/><rect x="777.10" y="200.40" width="6.8" height="6.8"/><rect x="780.30" y="195.60" width="6.8" height="6.8"/><rect x="782.50" y="200.40" width="6.8" height="6.8"/><rect x="785.90" y="238.50" width="6.8" height="6.8"/><rect x="788.20" y="293.70" width="6.8" height="6.8"/><rect x="790.50" y="298.60" width="6.8" height="6.8"/><rect x="793.10" y="328.40" width="6.8" height="6.8"/><rect x="795.80" y="329.10" width="6.8" height="6.8"/><rect x="798.10" y="313.60" width="6.8" height="6.8"/><rect x="800.40" y="321.10" width="6.8" height="6.8"/><rect x="804.70" y="337.70" width="6.8" height="6.8"/><rect x="807.00" y="353.20" width="6.8" height="6.8"/><rect x="809.60" y="321.80" width="6.8" height="6.8"/><rect x="813.10" y="323.60" width="6.8" height="6.8"/><rect x="816.30" y="322.50" width="6.8" height="6.8"/><rect x="818.90" y="297.00" width="6.8" height="6.8"/><rect x="822.10" y="298.60" width="6.8" height="6.8"/><rect x="825.50" y="298.00" width="6.8" height="6.8"/><rect x="828.80" y="288.10" width="6.8" height="6.8"/><rect x="832.10" y="278.20" width="6.8" height="6.8"/><rect x="835.10" y="272.60" width="6.8" height="6.8"/><rect x="837.80" y="268.90" width="6.8" height="6.8"/><rect x="841.40" y="232.30" width="6.8" height="6.8"/><rect x="844.40" y="245.10" width="6.8" height="6.8"/><rect x="847.70" y="220.00" width="6.8" height="6.8"/><rect x="851.00" y="245.10" width="6.8" height="6.8"/><rect x="854.30" y="226.60" width="6.8" height="6.8"/><rect x="857.60" y="240.80" width="6.8" height="6.8"/><rect x="860.10" y="228.60" width="6.8" height="6.8"/><rect x="863.20" y="222.00" width="6.8" height="6.8"/><rect x="866.60" y="200.90" width="6.8" height="6.8"/><rect x="870.40" y="211.40" width="6.8" height="6.8"/><rect x="873.30" y="222.30" width="6.8" height="6.8"/><rect x="876.60" y="187.60" width="6.8" height="6.8"/><rect x="879.50" y="173.20" width="6.8" height="6.8"/><rect x="882.80" y="197.10" width="6.8" height="6.8"/></g>
</g>
<path d="M138.8 648.8v-20M295.8 648.8v-20M452.8 648.8v-20M609.8 648.8v-20M766.8 648.8v-20M923.8 648.8v-20M107.4 648.8v-11M170.2 648.8v-11M201.6 648.8v-11M233.0 648.8v-11M264.4 648.8v-11M327.2 648.8v-11M358.6 648.8v-11M390.0 648.8v-11M421.4 648.8v-11M484.2 648.8v-11M515.6 648.8v-11M547.0 648.8v-11M578.4 648.8v-11M641.2 648.8v-11M672.6 648.8v-11M704.0 648.8v-11M735.4 648.8v-11M798.2 648.8v-11M829.6 648.8v-11M861.0 648.8v-11M892.4 648.8v-11M91.3 615.0h20M91.3 580.9h10M91.3 546.8h10M91.3 512.7h10M91.3 478.6h10M91.3 444.5h20M91.3 410.4h10M91.3 376.3h10M91.3 342.2h10M91.3 308.1h10M91.3 274.0h20M91.3 239.9h10M91.3 205.8h10M91.3 171.7h10M91.3 137.6h10M91.3 103.5h20M91.3 69.4h10M91.3 35.3h10M954.7 537.0h-20M954.7 255.5h-20M954.7 621.7h-10.5M954.7 599.5h-10.5M954.7 580.6h-10.5M954.7 564.3h-10.5M954.7 549.9h-10.5M954.7 452.3h-10.5M954.7 402.7h-10.5M954.7 367.5h-10.5M954.7 340.2h-10.5M954.7 318.0h-10.5M954.7 299.1h-10.5M954.7 282.8h-10.5M954.7 268.4h-10.5M954.7 170.8h-10.5M954.7 121.2h-10.5M954.7 86.0h-10.5M954.7 58.7h-10.5M954.7 36.5h-10.5M954.7 17.6h-10.5" stroke="#000" stroke-width="2.6" fill="none"/>
<rect x="91.3" y="1.0" width="863.4" height="647.8" stroke="#000" stroke-width="2.6" fill="none"/>
<rect x="175" y="324" width="177" height="34.5" fill="#fff"/><rect x="175" y="361" width="186" height="34.5" fill="#fff"/><rect x="799" y="60" width="122" height="36" fill="#fff"/><rect x="818.6" y="84" width="9.799999999999955" height="21" fill="#fff"/><rect x="413" y="449" width="124" height="37.5" fill="#fff"/><rect x="662" y="504" width="122" height="37" fill="#fff"/>
<rect x="427.5" y="8.8" width="203.3" height="45.5" fill="#fff" stroke="#000" stroke-width="2.2"/><rect x="171.0" y="120.0" width="198.0" height="50.6" fill="#fff" stroke="#000" stroke-width="2.2"/><rect x="167.6" y="198.7" width="361.8" height="93.2" fill="#fff" stroke="#000" stroke-width="2.2"/>
<text transform="translate(46.17 626.60) scale(0.9000 1)" font-size="32">30</text>
<text transform="translate(46.17 456.10) scale(0.9000 1)" font-size="32">35</text>
<text transform="translate(46.17 285.60) scale(0.9000 1)" font-size="32">40</text>
<text transform="translate(46.17 115.10) scale(0.9000 1)" font-size="32">45</text>
<text transform="translate(113.67 695.20) scale(0.9150 1)" font-size="32">400</text>
<text transform="translate(270.44 695.20) scale(0.9150 1)" font-size="32">500</text>
<text transform="translate(427.32 695.20) scale(0.9150 1)" font-size="32">600</text>
<text transform="translate(584.32 695.20) scale(0.9150 1)" font-size="32">700</text>
<text transform="translate(741.44 695.20) scale(0.9150 1)" font-size="32">800</text>
<text transform="translate(898.32 695.20) scale(0.9150 1)" font-size="32">900</text>
<text transform="translate(421.34 749.00) scale(0.9113 1)" font-size="30" >temperature</text>
<text transform="translate(574.01 749.40) scale(0.9649 1)" font-size="30.5" >(K)</text>
<text transform="translate(22.10 449.71) rotate(-90) scale(0.9451 1)" font-size="30">shear modulus G (GPa)</text>
<text transform="translate(1047.70 420.44) rotate(-90) scale(0.8879 1)" font-size="31">Internal friction Q</text>
<path d="M1027.7 187.5H1030.1V193.8H1027.7Z" fill="#000"/>
<path transform="translate(1033.8 195) rotate(-90) translate(5.67 0.00) scale(0.01182 -0.00937)" d="M515 0L515 1237L197 1010L197 1180L530 1409L696 1409L696 0Z" fill="#000" stroke="#000" stroke-width="25.4"/>
<path transform="translate(965.30 268.20) scale(0.01723 -0.01561)" d="M515 0L515 1237L197 1010L197 1180L530 1409L696 1409L696 0Z" fill="#000" stroke="#000" stroke-width="17.4"/>
<text transform="translate(981.85 268.40) scale(0.9180 1)" font-size="32" >0</text>
<text transform="translate(998.37 253.20) scale(0.9770 1)" font-size="19" >-3</text>
<path transform="translate(965.30 549.70) scale(0.01723 -0.01561)" d="M515 0L515 1237L197 1010L197 1180L530 1409L696 1409L696 0Z" fill="#000" stroke="#000" stroke-width="17.4"/>
<text transform="translate(981.85 549.90) scale(0.9180 1)" font-size="32" >0</text>
<text transform="translate(998.38 534.70) scale(0.9613 1)" font-size="19" >-4</text>
<path d="M427.5 31.3H499.8" stroke="#067806" stroke-width="2.3"/>
<rect x="460.7" y="27.9" width="6.8" height="6.8" fill="#fff" stroke="#2a962a" stroke-width="1.1"/>
<text transform="translate(505.69 41.60) scale(0.9044 1)" font-size="30" >initial Q</text>
<text transform="translate(604.49 28.00) scale(1.0737 1)" font-size="19" >-</text>
<path transform="translate(609.99 28.00) scale(0.01122 -0.00937)" d="M515 0L515 1237L197 1010L197 1180L530 1409L696 1409L696 0Z" fill="#000" stroke="#000" stroke-width="26.7"/>
<text transform="translate(181.63 154.00) scale(0.9682 1)" font-size="30" >Zr</text>
<text transform="translate(209.75 165.40) scale(1.0000 1)" font-size="18" >46</text>
<text transform="translate(230.50 154.00) scale(1.0000 1)" font-size="30" >Cu</text>
<text transform="translate(268.76 165.40) scale(0.9684 1)" font-size="18" >45</text>
<text transform="translate(289.00 154.00) scale(0.9697 1)" font-size="30" >Al</text>
<text transform="translate(313.79 165.40) scale(1.2121 1)" font-size="18" >7</text>
<text transform="translate(325.22 154.00) scale(1.0353 1)" font-size="30" >Ti</text>
<text transform="translate(350.21 165.40) scale(1.0588 1)" font-size="18" >2</text>
<path d="M168.6 228H238" stroke="#dc1c1c" stroke-width="2.3"/>
<circle cx="203.8" cy="228" r="4.3" fill="#fff" stroke="#dc1c1c" stroke-width="1.45"/>
<path d="M203.4 260.8L208.6 269.2H198.2Z" fill="#fff" stroke="#2a2ae6" stroke-width="1.15"/>
<text transform="translate(245.78 239.00) scale(0.9125 1)" font-size="30" >initial G</text>
<text transform="translate(246.24 276.80) scale(0.9062 1)" font-size="30" >G after crystallization</text>
<text transform="translate(175.93 352.00) scale(0.9355 1)" font-size="30" >dT/dt=3 K/min</text>
<text transform="translate(176.63 389.00) scale(0.9371 1)" font-size="30" >f=450-550 kHz</text>
<text transform="translate(800.10 88.90) scale(0.9389 1)" font-size="32" >T</text><text transform="translate(818.67 99.75) scale(0.9730 0.9800)" font-size="17.82" style="stroke-width:0.2px">a</text><text transform="translate(829.28 88.90) scale(0.8786 1)" font-size="32" >=890 K</text>
<text transform="translate(414.86 479.10) scale(0.9886 1)" font-size="31" >T</text><text transform="translate(434.05 489.68) scale(0.9939 0.9926)" font-size="18.02" style="stroke-width:0.2px">g</text><text transform="translate(444.13 479.10) scale(0.9100 1)" font-size="31" >=670 K</text>
<text transform="translate(664.71 534.30) scale(0.9222 1)" font-size="32" >T</text><text transform="translate(683.51 544.40) scale(1.1467 1.0000)" font-size="16.0" style="stroke-width:0.2px">x</text><text transform="translate(691.77 534.30) scale(0.8846 1)" font-size="32" >=726 K</text>
<path d="M908.6 103.6V161.6" stroke="#000" stroke-width="2.7" fill="none"/><path d="M908.6 178.6L902.0 156.6L908.6 161.6L915.2 156.6Z" fill="#000"/>
<path d="M563.8 472.7V533.6" stroke="#000" stroke-width="2.7" fill="none"/><path d="M563.8 550.6L557.1999999999999 528.6L563.8 533.6L570.4 528.6Z" fill="#000"/>
<path d="M650.5 537.0V597.6" stroke="#000" stroke-width="2.7" fill="none"/><path d="M650.5 614.6L643.9 592.6L650.5 597.6L657.1 592.6Z" fill="#000"/>
</svg></body></html>
